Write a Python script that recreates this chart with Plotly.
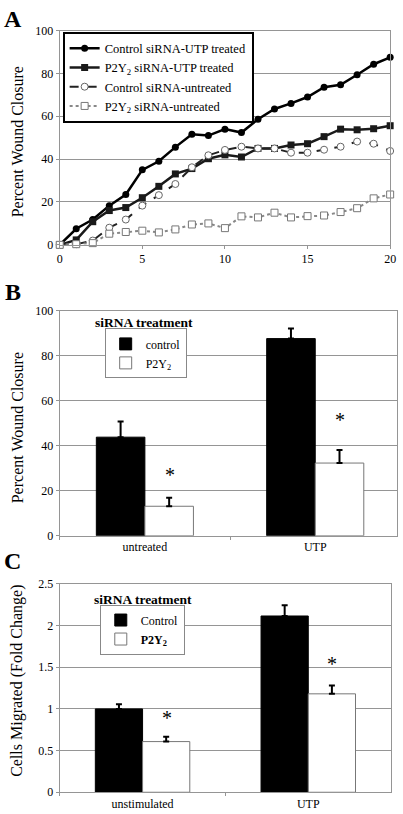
import plotly.graph_objects as go

# ---------------- Data ----------------
# Panel A: wound closure time course
time_points = list(range(0, 21))
ctrl_utp = [0, 7.5, 11.8, 18.3, 23.5, 35, 39, 45.6, 51.6, 51, 54, 52.4, 58.6, 63.4, 66, 69, 73.6, 74.7, 79.4, 84.3, 87.5]
p2y2_utp = [0, 2.3, 10.8, 16, 17.4, 22, 27.3, 33.1, 35.6, 40.2, 42, 41, 45, 45, 46.6, 47.2, 50.5, 54, 53.7, 54.2, 55.6]
ctrl_untr = [0, 0.3, 2, 8, 11.8, 18.3, 23.2, 28.4, 36.2, 41.8, 44.3, 45.8, 45, 45, 43, 43, 44.4, 45.8, 48.2, 47.2, 43.8]
p2y2_untr = [0, 0.3, 0.8, 5.2, 6, 6.6, 5.8, 7.2, 9.5, 10, 7.8, 13.3, 12.8, 15, 12.8, 13.4, 13.7, 15.3, 17.1, 21.7, 23.5]

# Panel B: percent wound closure
b_categories = ["untreated", "UTP"]
b_control = [43.8, 87.6]
b_control_err = [7.0, 4.5]
b_p2y2 = [13.1, 32.3]
b_p2y2_err = [3.8, 5.8]
b_sig_y = [27, 51.5]

# Panel C: cells migrated
c_categories = ["unstimulated", "UTP"]
c_control = [1.0, 2.115]
c_control_err = [0.055, 0.13]
c_p2y2 = [0.608, 1.181]
c_p2y2_err = [0.059, 0.10]
c_sig_y = [0.89, 1.54]

# ---------------- Figure ----------------
W, H = 403, 814
FONT = "Liberation Serif"

def px_x(p):
    return p / W

def px_y(p):
    return 1 - p / H

fig = go.Figure()

# Panel A traces
fig.add_trace(go.Scatter(
    x=time_points, y=ctrl_utp, mode="lines+markers", name="Control siRNA-UTP treated",
    line=dict(color="black", width=2.5), marker=dict(symbol="circle", size=7, color="black"),
    xaxis="x", yaxis="y", legend="legend", cliponaxis=False))
fig.add_trace(go.Scatter(
    x=time_points, y=p2y2_utp, mode="lines+markers", name="P2Y<sub>2</sub> siRNA-UTP treated",
    line=dict(color="#1a1a1a", width=2.5), marker=dict(symbol="square", size=7, color="#1a1a1a"),
    xaxis="x", yaxis="y", legend="legend", cliponaxis=False))
fig.add_trace(go.Scatter(
    x=time_points, y=ctrl_untr, mode="lines+markers", name="Control siRNA-untreated",
    line=dict(color="#222222", width=2, dash="dash"),
    marker=dict(symbol="circle", size=7, color="white", line=dict(color="#666666", width=1)),
    xaxis="x", yaxis="y", legend="legend", cliponaxis=False))
fig.add_trace(go.Scatter(
    x=time_points, y=p2y2_untr, mode="lines+markers", name="P2Y<sub>2</sub> siRNA-untreated",
    line=dict(color="#888888", width=2, dash="dot"),
    marker=dict(symbol="square", size=7, color="white", line=dict(color="#777777", width=1)),
    xaxis="x", yaxis="y", legend="legend", cliponaxis=False))

# Panel B traces
fig.add_trace(go.Bar(
    x=b_categories, y=b_control, name="control", marker=dict(color="black", line=dict(color="black", width=1)),
    error_y=dict(type="data", array=b_control_err, arrayminus=[0] * len(b_control_err), symmetric=False,
                 color="black", thickness=2, width=3),
    xaxis="x2", yaxis="y2", legend="legend2"))
fig.add_trace(go.Bar(
    x=b_categories, y=b_p2y2, name="P2Y<sub>2</sub>", marker=dict(color="white", line=dict(color="#777777", width=1)),
    error_y=dict(type="data", array=b_p2y2_err, arrayminus=[0] * len(b_p2y2_err), symmetric=False,
                 color="black", thickness=2, width=3),
    xaxis="x2", yaxis="y2", legend="legend2"))

# Panel C traces
fig.add_trace(go.Bar(
    x=c_categories, y=c_control, name="Control", marker=dict(color="black", line=dict(color="black", width=1)),
    error_y=dict(type="data", array=c_control_err, arrayminus=[0] * len(c_control_err), symmetric=False,
                 color="black", thickness=2, width=3),
    xaxis="x3", yaxis="y3", legend="legend3"))
fig.add_trace(go.Bar(
    x=c_categories, y=c_p2y2, name="<b>P2Y<sub>2</sub></b>", marker=dict(color="white", line=dict(color="#777777", width=1)),
    error_y=dict(type="data", array=c_p2y2_err, arrayminus=[0] * len(c_p2y2_err), symmetric=False,
                 color="black", thickness=2, width=3),
    xaxis="x3", yaxis="y3", legend="legend3"))

grid = "#959595"
tickfont = dict(family=FONT, size=12, color="black")

axis_common = dict(showline=True, linecolor=grid, linewidth=1, mirror=True,
                   ticks="outside", ticklen=3, tickcolor=grid, tickfont=tickfont, zeroline=False)

fig.update_layout(
    width=W, height=H, margin=dict(l=0, r=0, t=0, b=0),
    paper_bgcolor="white", plot_bgcolor="white",
    font=dict(family=FONT, size=12, color="black"),
    barmode="group", bargap=0.43, bargroupgap=0,
    showlegend=True,
    xaxis=dict(domain=[px_x(58), px_x(396)], range=[0, 20], dtick=5, showgrid=False, anchor="y", **axis_common),
    yaxis=dict(domain=[px_y(242), px_y(24)], range=[0, 100], dtick=20, showgrid=True, gridcolor=grid, anchor="x", **axis_common),
    xaxis2=dict(domain=[px_x(58), 1.0], range=[-0.5, 1.48], type="category", tickson="boundaries",
                showgrid=False, anchor="y2", **axis_common),
    yaxis2=dict(domain=[px_y(538), px_y(309)], range=[0, 100], dtick=20, showgrid=True, gridcolor=grid, anchor="x2", **axis_common),
    xaxis3=dict(domain=[px_x(58), px_x(397)], range=[-0.5, 1.5], type="category", tickson="boundaries",
                showgrid=False, anchor="y3", **axis_common),
    yaxis3=dict(domain=[px_y(799), px_y(587)], range=[0, 2.5], dtick=0.5, showgrid=True, gridcolor=grid, anchor="x3", **axis_common),
    legend=dict(x=px_x(61), y=px_y(25), xanchor="left", yanchor="top", bgcolor="white",
                bordercolor="black", borderwidth=2, font=dict(family=FONT, size=12.5, color="black"),
                tracegroupgap=0, itemwidth=30),
    legend2=dict(x=px_x(104), y=px_y(327), xanchor="left", yanchor="top", bgcolor="white",
                 bordercolor="#888888", borderwidth=1, font=dict(family=FONT, size=12, color="black")),
    legend3=dict(x=px_x(99), y=px_y(608), xanchor="left", yanchor="top", bgcolor="white",
                 bordercolor="#888888", borderwidth=1, font=dict(family=FONT, size=12, color="black")),
)

annotations = []
# Panel letters
for letter, yy in [("A", 12), ("B", 290), ("C", 564)]:
    annotations.append(dict(text=f"<b>{letter}</b>", x=px_x(10), y=px_y(yy), xref="paper", yref="paper",
                            xanchor="center", yanchor="middle",
                            showarrow=False, font=dict(family=FONT, size=24, color="black")))
# Y-axis titles
for txt, yy in [("Percent Wound Closure", 137), ("Percent Wound Closure", 428), ("Cells Migrated (Fold Change)", 686)]:
    annotations.append(dict(text=txt, x=px_x(15), y=px_y(yy), xref="paper", yref="paper", textangle=-90,
                            xanchor="center", yanchor="middle",
                            showarrow=False, font=dict(family=FONT, size=16, color="black")))
# Legend titles
annotations.append(dict(text="<b>siRNA treatment</b>", x=px_x(92), y=px_y(321), xref="paper", yref="paper",
                        xanchor="left", yanchor="middle", showarrow=False, font=dict(family=FONT, size=13.5, color="black")))
annotations.append(dict(text="<b>siRNA treatment</b>", x=px_x(91), y=px_y(603), xref="paper", yref="paper",
                        xanchor="left", yanchor="middle", showarrow=False, font=dict(family=FONT, size=13.5, color="black")))
# Significance asterisks
for cat, yv in zip(b_categories, b_sig_y):
    annotations.append(dict(text="*", x=cat, y=yv, xref="x2", yref="y2", xshift=25, showarrow=False,
                            xanchor="center", yanchor="middle", font=dict(family=FONT, size=20, color="black")))
for cat, yv in zip(c_categories, c_sig_y):
    annotations.append(dict(text="*", x=cat, y=yv, xref="x3", yref="y3", xshift=24, showarrow=False,
                            xanchor="center", yanchor="middle", font=dict(family=FONT, size=20, color="black")))
fig.update_layout(annotations=annotations)

fig.write_html("out.html", config={"displayModeBar": False},
               post_script="document.body.style.margin='0';document.body.style.padding='0';")
